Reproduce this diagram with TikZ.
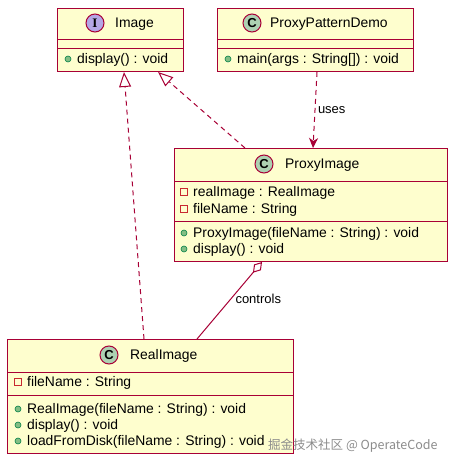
\documentclass[tikz,border=0pt]{standalone}
\usepackage{fontspec}
\setmainfont{Liberation Sans}
\newfontfamily\cjkfont{Noto Sans CJK SC}
\newfontfamily\serifbold{Liberation Serif}
\usetikzlibrary{arrows.meta}
\definecolor{umlfill}{HTML}{FEFECE}
\definecolor{umlline}{HTML}{A80036}
\definecolor{cicon}{HTML}{ADD1B2}
\definecolor{iicon}{HTML}{B4A7E5}
\definecolor{pubfill}{HTML}{84BE84}
\definecolor{publine}{HTML}{038048}
\definecolor{privline}{HTML}{C82930}
\definecolor{wmgray}{HTML}{8C8C8C}
\begin{document}
\begin{tikzpicture}[x=1pt,y=-1pt,
  classbox/.style={draw=umlline, fill=umlfill, line width=1pt, anchor=north west, inner sep=0pt},
  divider/.style={draw=umlline, line width=1pt},
  txt/.style={anchor=west, inner sep=0pt, yshift=-1pt, font=\fontsize{13.9}{16}\selectfont, text height=10pt, text depth=3pt},
  icon/.style={circle, draw=umlline, line width=1pt, minimum size=18pt, inner sep=0pt, font=\fontsize{13}{13}\selectfont\bfseries},
  pub/.style={circle, draw=publine, fill=pubfill, line width=0.6pt, minimum size=6pt, inner sep=0pt},
  priv/.style={rectangle, draw=privline, line width=0.8pt, minimum size=6.5pt, inner sep=0pt},
  lbl/.style={inner sep=0pt, font=\fontsize{13}{15}\selectfont, text height=9pt, text depth=3pt},
  realize/.style={draw=umlline, line width=1pt, dash pattern=on 5pt off 4pt, -{Triangle[open, length=15pt, width=12pt]}},
  depend/.style={draw=umlline, line width=1pt, dash pattern=on 5pt off 4pt, -{Stealth[length=10pt, width=9pt, inset=3pt]}},
  aggr/.style={draw=umlline, line width=1pt, -{Diamond[open, length=14pt, width=9pt]}}
]
\fill[white] (0,0) rectangle (459,466);
\useasboundingbox (0,0) rectangle (459,466);

% Image (interface)
\node[classbox, minimum width=126pt, minimum height=63pt] (img) at (57,8) {};
\draw[divider] (img.west |- 0,39) -- (img.east |- 0,39);
\draw[divider] (img.west |- 0,48) -- (img.east |- 0,48);
\node[icon, fill=iicon] (imgic) at (95,23) {\serifbold I};
\node[txt] (imgname) at (115,23) {Image};
\node[pub] (imgm1p) at (68,59) {};
\node[txt] (imgm1) at (77,59) {display() : void};

% ProxyPatternDemo
\node[classbox, minimum width=196pt, minimum height=63pt] (demo) at (217,8) {};
\draw[divider] (demo.west |- 0,39) -- (demo.east |- 0,39);
\draw[divider] (demo.west |- 0,48) -- (demo.east |- 0,48);
\node[icon, fill=cicon] (demoic) at (252,23) {C};
\node[txt] (demoname) at (270,23) {ProxyPatternDemo};
\node[pub] (demom1p) at (228,59) {};
\node[txt] (demom1) at (237,59) {main(args : String[]) : void};

% ProxyImage
\node[classbox, minimum width=273pt, minimum height=113pt] (proxy) at (174,148) {};
\draw[divider] (proxy.west |- 0,181) -- (proxy.east |- 0,181);
\draw[divider] (proxy.west |- 0,221) -- (proxy.east |- 0,221);
\node[icon, fill=cicon] (proxyic) at (264,164) {C};
\node[txt] (proxyname) at (285,164) {ProxyImage};
\node[priv] (proxya1p) at (184,192) {};
\node[txt] (proxya1) at (193,192) {realImage : RealImage};
\node[priv] (proxya2p) at (184,209) {};
\node[txt] (proxya2) at (193,209) {fileName : String};
\node[pub] (proxym1p) at (184,233) {};
\node[txt] (proxym1) at (193,233) {ProxyImage(fileName : String) : void};
\node[pub] (proxym2p) at (184,249) {};
\node[txt] (proxym2) at (193,249) {display() : void};

% RealImage
\node[classbox, minimum width=286pt, minimum height=114pt] (real) at (7,339) {};
\draw[divider] (real.west |- 0,372) -- (real.east |- 0,372);
\draw[divider] (real.west |- 0,395) -- (real.east |- 0,395);
\node[icon, fill=cicon] (realic) at (109,355) {C};
\node[txt] (realname) at (130,355) {RealImage};
\node[priv] (reala1p) at (18,382) {};
\node[txt] (reala1) at (27,382) {fileName : String};
\node[pub] (realm1p) at (18,409) {};
\node[txt] (realm1) at (27,409) {RealImage(fileName : String) : void};
\node[pub] (realm2p) at (18,425) {};
\node[txt] (realm2) at (27,425) {display() : void};
\node[pub] (realm3p) at (18,441) {};
\node[txt] (realm3) at (27,441) {loadFromDisk(fileName : String) : void};

% connectors
\draw[realize] (real.north -| 144,0) -- (img.south -| 124,0);
\draw[realize] (proxy.north -| 245,0) -- (img.south -| 158,0);
\draw[depend] (demo.south -| 317,0) -- node[lbl, right, xshift=2.5pt] (uses) {uses} (proxy.north -| 313,0);
\draw[aggr] (real.north -| 197,0) -- node[lbl, right, xshift=5.5pt] (controls) {controls} (proxy.south -| 262,0);

% watermark
\node[anchor=west, inner sep=0pt, text=wmgray, font=\cjkfont\fontsize{12.5}{14}\selectfont] (wm) at (268,446) {掘金技术社区 @ OperateCode};
\end{tikzpicture}
\end{document}
